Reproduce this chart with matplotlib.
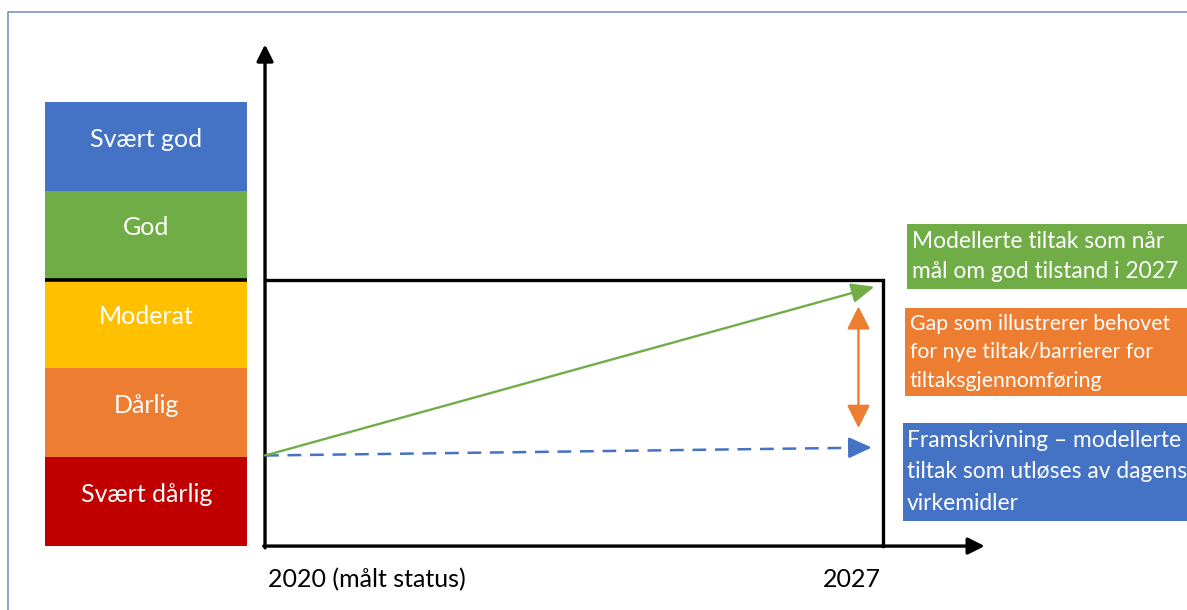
import matplotlib
matplotlib.use("Agg")
import matplotlib.pyplot as plt
from matplotlib.patches import Rectangle

plt.rcParams['font.family'] = ['Lato', 'DejaVu Sans']

# Ecological status classes, bottom to top
classes = ["Svært dårlig", "Dårlig", "Moderat", "God", "Svært god"]
class_colors = ["#C00000", "#ED7D31", "#FFC000", "#70AD47", "#4472C4"]

# Time axis
start_year = 2020
end_year = 2027
year_labels = ["2020 (målt status)", "2027"]

# Status levels (class units: 0 = bottom of "Svært dårlig", 3 = lower bound of "God")
status_2020 = 1.02
target_level = 3.0
modelled_2027 = 2.92
projected_2027 = 1.11
gap_low, gap_high = 1.33, 2.70

# Explanation boxes
box_texts = [
    "Modellerte tiltak som når\nmål om god tilstand i 2027",
    "Gap som illustrerer behovet\nfor nye tiltak/barrierer for\ntiltaksgjennomføring",
    "Framskrivning – modellerte\ntiltak som utløses av dagens\nvirkemidler",
]
box_colors = ["#70AD47", "#ED7D31", "#4472C4"]

W, H = 1187, 610
fig = plt.figure(figsize=(W / 100, H / 100), dpi=100)
ax = fig.add_axes([0, 0, 1, 1])
ax.set_xlim(2016.999, 2030.44)
ax.set_ylim(-0.72, 6.15)
ax.axis("off")


def frac(px, py):
    return px / W, 1 - py / H


# thin outer frame
ax.plot([frac(7.5, 0)[0], frac(7.5, 0)[0], 1.0], [0.0, frac(0, 12)[1], frac(0, 12)[1]],
        transform=ax.transAxes, color="#7F9BCB", lw=1.3, clip_on=False)

# status class column
col_left, col_right = 2017.51, 2019.80
col_center = (col_left + col_right) / 2
col_width = col_right - col_left
for i, (name, color) in enumerate(zip(classes, class_colors)):
    ax.bar(col_center, 1.0, bottom=i, width=col_width, color=color, edgecolor="none")
    ax.text(col_center, i + 0.5, name, ha="center", va="baseline",
            color="white", fontsize=18)
ax.plot([col_left, col_right], [target_level, target_level], color="black", lw=2.6,
        solid_capstyle="butt")

# axes with arrow heads
axis_style = dict(arrowstyle="-|>,head_length=0.5,head_width=0.25", color="black",
                  lw=2.4, mutation_scale=20, shrinkA=0, shrinkB=0)
ax.annotate("", xy=(start_year, 5.65), xytext=(start_year, -0.02), arrowprops=axis_style)
ax.annotate("", xy=(2028.15, 0.0), xytext=(start_year - 0.015, 0.0), arrowprops=axis_style)

# target frame: goal level until 2027
ax.plot([start_year, end_year, end_year], [target_level, target_level, 0.0],
        color="black", lw=2.4, solid_joinstyle="miter")

# year labels
ax.text(start_year + 0.03, -0.38, year_labels[0], ha="left", va="center",
        fontsize=18, color="black")
ax.text(end_year - 0.03, -0.38, year_labels[1], ha="right", va="center",
        fontsize=18, color="black")

arrow_end = 2026.9
gap_x = 2026.72

# modelled measures reaching the goal
ax.annotate("", xy=(arrow_end, modelled_2027), xytext=(start_year, status_2020),
            arrowprops=dict(arrowstyle="-|>,head_length=0.7,head_width=0.3",
                            color="#70AD47", lw=1.7, mutation_scale=20,
                            shrinkA=0, shrinkB=0))

# projection with current instruments: dashed shaft, solid head
blue_end = arrow_end - 0.03
ax.plot([start_year, blue_end - 0.12], [status_2020, projected_2027 - 0.002],
        color="#4472C4", lw=1.8, linestyle=(0, (5.5, 3.5)), dash_capstyle="butt")
ax.annotate("", xy=(blue_end, projected_2027), xytext=(blue_end - 0.2, projected_2027 - 0.002),
            arrowprops=dict(arrowstyle="-|>,head_length=0.7,head_width=0.32",
                            color="#4472C4", lw=1.8, mutation_scale=20,
                            shrinkA=0, shrinkB=0))

# gap between the two
ax.annotate("", xy=(gap_x, gap_high), xytext=(gap_x, gap_low),
            arrowprops=dict(arrowstyle="<|-|>,head_length=0.7,head_width=0.35",
                            color="#ED7D31", lw=1.7, mutation_scale=20,
                            shrinkA=0, shrinkB=0))

# explanation boxes (pixel layout)
box_layout = [
    # left, top, bottom, text left, first baseline, line pitch, font size
    (907, 224, 289, 912, 248, 30, 16.4),
    (905, 308, 396, 910, 330, 28.5, 15.3),
    (903, 423, 521, 907, 447, 31.5, 16.4),
]
for text, color, (l, t, b, tx, base, pitch, fs) in zip(box_texts, box_colors, box_layout):
    x0, y0 = frac(l, b)
    x1, y1 = frac(W + 5, t)
    ax.add_patch(Rectangle((x0, y0), x1 - x0, y1 - y0, transform=ax.transAxes,
                           facecolor=color, edgecolor="none", clip_on=True))
    for k, line in enumerate(text.split("\n")):
        fx, fy = frac(tx, base + k * pitch)
        ax.text(fx, fy, line, transform=ax.transAxes, ha="left", va="baseline",
                color="white", fontsize=fs)

fig.savefig("out.png", dpi=100)
